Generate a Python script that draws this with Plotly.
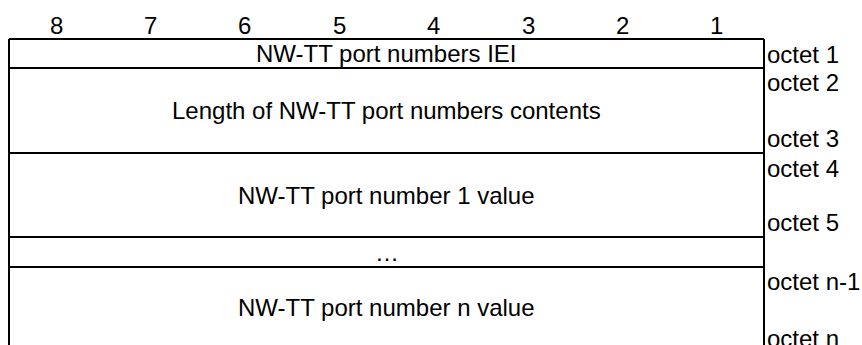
import plotly.graph_objects as go

# Bit column headings
bit_labels = ["8", "7", "6", "5", "4", "3", "2", "1"]

# Field rows: text, top boundary, bottom boundary (in diagram units)
row_texts = [
    "NW-TT port numbers IEI",
    "Length of NW-TT port numbers contents",
    "NW-TT port number 1 value",
    "\u2026",
    "NW-TT port number n value",
]
row_tops = [39, 68, 153, 237, 267]
row_bottoms = [68, 153, 237, 267, 345]

# Octet labels and their vertical positions
octet_labels = ["octet 1", "octet 2", "octet 3", "octet 4", "octet 5", "octet n-1", "octet n"]
octet_y = [54, 82, 138, 168, 222, 281, 338]

W, H = 862, 345
left, right = 9, 764
font = dict(family="Liberation Sans, Arial, sans-serif", size=24, color="black")

fig = go.Figure()
fig.add_trace(go.Scatter(x=[0, W], y=[0, H], mode="markers", marker=dict(opacity=0),
                         hoverinfo="skip", showlegend=False))

col_w = (right - left) / len(bit_labels)
for i, b in enumerate(bit_labels):
    fig.add_annotation(x=left + col_w * (i + 0.5), y=25, text=b, showarrow=False, font=font,
                       xanchor="center", yanchor="middle")

lw = 2
fig.add_shape(type="line", x0=left, x1=left, y0=row_tops[0], y1=H, line=dict(color="black", width=lw))
fig.add_shape(type="line", x0=right, x1=right, y0=row_tops[0], y1=H, line=dict(color="black", width=lw))
for t in row_tops:
    fig.add_shape(type="line", x0=left, x1=right, y0=t, y1=t, line=dict(color="black", width=lw))

for txt, t, b in zip(row_texts, row_tops, row_bottoms):
    yc = 307 if b >= H else (t + b) / 2
    fig.add_annotation(x=(left + right) / 2, y=yc, text=txt, showarrow=False, font=font,
                       xanchor="center", yanchor="middle")

for lab, y in zip(octet_labels, octet_y):
    fig.add_annotation(x=right + 2, y=y, text=lab, showarrow=False, font=font,
                       xanchor="left", yanchor="middle", xshift=-1)

fig.update_xaxes(range=[0, W], visible=False, fixedrange=True)
fig.update_yaxes(range=[H, 0], visible=False, fixedrange=True)
fig.update_layout(width=W, height=H, margin=dict(l=0, r=0, t=0, b=0),
                  plot_bgcolor="white", paper_bgcolor="white")
fig.write_html("out.html", config={"displayModeBar": False},
               post_script="document.body.style.margin='0';document.body.style.overflow='hidden';")
